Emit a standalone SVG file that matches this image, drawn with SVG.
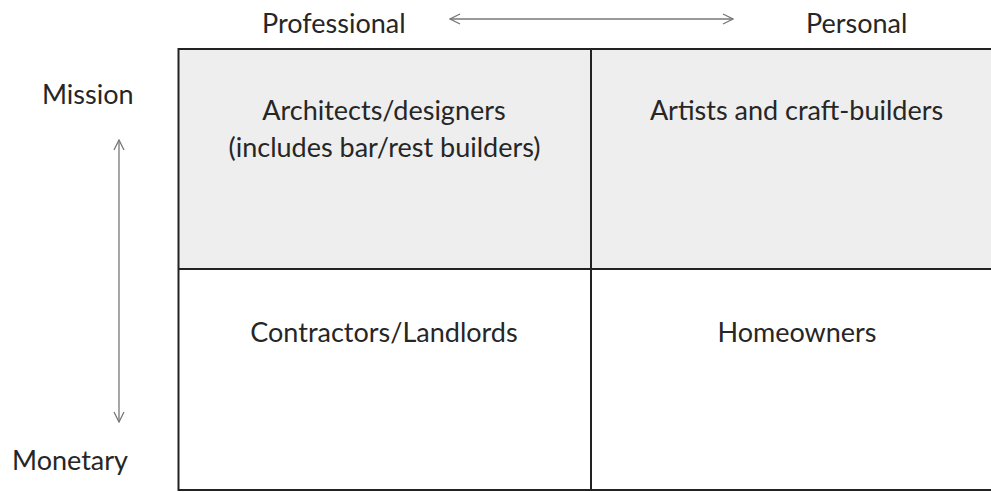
<svg xmlns="http://www.w3.org/2000/svg" width="991" height="492" viewBox="0 0 991 492">
  <style>
    .lbl { font-family: Lato, "Liberation Sans", sans-serif; font-size: 27px; fill: #262626; }
    .mid { text-anchor: middle; }
    .grid { stroke: #222; stroke-width: 2; fill: none; }
    .axis { stroke: #777; stroke-width: 1.3; fill: none; }
  </style>
  <defs>
    <marker id="chev" viewBox="0 0 12 12" refX="11" refY="6" markerWidth="12" markerHeight="12" markerUnits="userSpaceOnUse" orient="auto-start-reverse">
      <path d="M1,1 L11,6 L1,11" fill="none" stroke="#777" stroke-width="1.3"/>
    </marker>
  </defs>
  <rect width="991" height="492" fill="#fff"/>

  <!-- shaded top row -->
  <rect x="178" y="49" width="813" height="220" fill="#eeeeee"/>

  <!-- axis arrows -->
  <g id="connectors">
    <line class="axis" x1="450" y1="19" x2="733" y2="19" marker-start="url(#chev)" marker-end="url(#chev)"/>
    <line class="axis" x1="119" y1="140" x2="119" y2="422" marker-start="url(#chev)" marker-end="url(#chev)"/>
  </g>

  <!-- grid lines -->
  <g id="grid">
    <line class="grid" x1="178" y1="49" x2="991" y2="49"/>
    <line class="grid" x1="178" y1="269" x2="991" y2="269"/>
    <line class="grid" x1="178" y1="490" x2="991" y2="490"/>
    <line class="grid" x1="178.5" y1="48" x2="178.5" y2="491"/>
    <line class="grid" x1="591" y1="48" x2="591" y2="491"/>
  </g>

  <!-- axis labels -->
  <g id="axis-professional"><text class="lbl" x="262" y="33">Professional</text></g>
  <g id="axis-personal"><text class="lbl" x="806" y="33">Personal</text></g>
  <g id="axis-mission"><text class="lbl" x="42" y="104">Mission</text></g>
  <g id="axis-monetary"><text class="lbl" x="12" y="470">Monetary</text></g>

  <!-- quadrants -->
  <g id="q-architects">
    <text class="lbl mid" x="384" y="120">Architects/designers</text>
    <text class="lbl mid" x="384.5" y="157">(includes bar/rest builders)</text>
  </g>
  <g id="q-artists">
    <text class="lbl mid" x="796.5" y="120">Artists and craft-builders</text>
  </g>
  <g id="q-contractors">
    <text class="lbl mid" x="384" y="342">Contractors/Landlords</text>
  </g>
  <g id="q-homeowners">
    <text class="lbl mid" x="797" y="342">Homeowners</text>
  </g>
</svg>
